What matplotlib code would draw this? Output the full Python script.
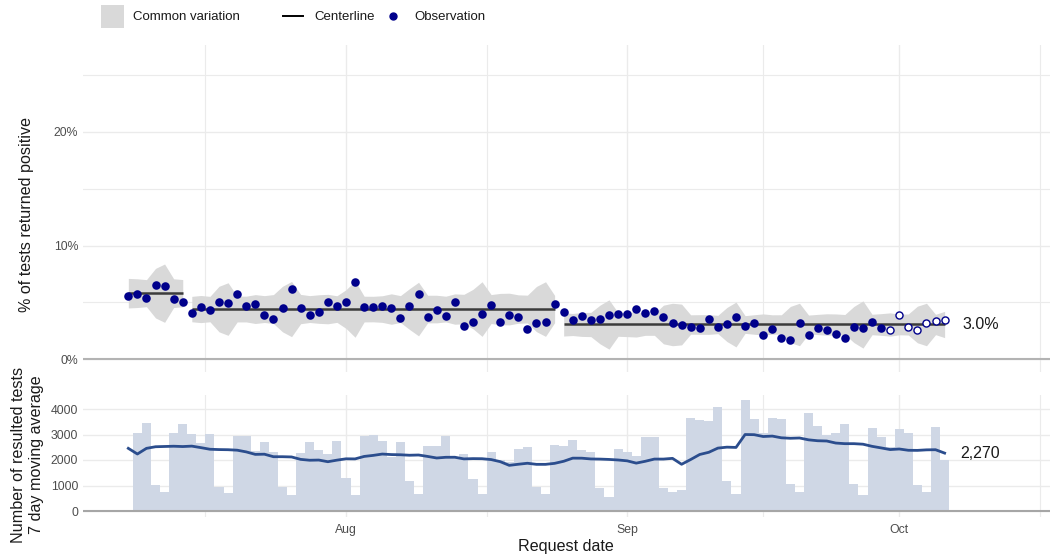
import numpy as np
import pandas as pd
import matplotlib
matplotlib.use("Agg")
import matplotlib.pyplot as plt
import matplotlib.dates as mdates
from matplotlib.patches import Rectangle
from matplotlib.lines import Line2D

plt.rcParams['font.family'] = ['Liberation Sans', 'DejaVu Sans']

# ---------------- data ----------------
start_date = '2020-07-08'
pct_positive = [
    5.55, 5.70, 5.40, 6.55, 6.40, 5.26, 5.02,            # Jul 8-14
    4.08, 4.61, 4.32, 5.00, 4.90, 5.73, 4.67,            # Jul 15-21
    4.82, 3.88, 3.52, 4.49, 6.20, 4.46, 3.90,            # Jul 22-28
    4.14, 5.02, 4.67, 5.02, 6.75, 4.55, 4.61,            # Jul 29-Aug 4
    4.70, 4.46, 3.58, 4.67, 5.70, 3.67, 4.29,            # Aug 5-11
    3.79, 5.05, 2.88, 3.26, 3.96, 4.78, 3.26,            # Aug 12-18
    3.88, 3.70, 2.61, 3.17, 3.29, 4.82, 4.11,            # Aug 19-25
    3.44, 3.76, 3.41, 3.55, 3.88, 3.94, 3.96,            # Aug 26-Sep 1
    4.43, 4.03, 4.23, 3.73, 3.14, 3.00, 2.79,            # Sep 2-8
    2.76, 3.55, 2.79, 3.05, 3.67, 2.88, 3.14,            # Sep 9-15
    2.09, 2.67, 1.82, 1.65, 3.20, 2.11, 2.70,            # Sep 16-22
    2.56, 2.23, 1.88, 2.79, 2.73, 3.29, 2.73,            # Sep 23-29
    2.56, 3.85, 2.79, 2.56, 3.14, 3.32, 3.46,            # Sep 30-Oct 6
]
resulted_tests = [
    2900, 3070, 3463, 1031, 745, 3070, 3412,             # Jul 8-14
    3020, 2654, 3020, 941, 706, 2941, 2941,              # Jul 15-21
    2340, 2706, 2327, 941, 640, 2275, 2706,              # Jul 22-28
    2392, 2248, 2758, 1307, 614, 2954, 2993,             # Jul 29-Aug 4
    2758, 2105, 2706, 1176, 680, 2562, 2562,             # Aug 5-11
    2954, 2118, 2248, 1255, 654, 2327, 1990,             # Aug 12-18
    1940, 2418, 2523, 954, 654, 2601, 2562,              # Aug 19-25
    2797, 2405, 2314, 915, 562, 2450, 2327,              # Aug 26-Sep 1
    2170, 2915, 2915, 915, 758, 823, 3634,               # Sep 2-8
    3555, 3516, 4065, 1176, 680, 4366, 3595,             # Sep 9-15
    3050, 3634, 3595, 1046, 758, 3856, 3346,             # Sep 16-22
    2980, 3072, 3425, 1046, 614, 3268, 2915,             # Sep 23-29
    2523, 3229, 3072, 1020, 758, 3307, 1985,             # Sep 30-Oct 6
]
bars_from = '2020-07-09'
ma_head = [2457, 2235, 2457, 2520, 2530, 2540]       # 7-day MA, Jul 8-13
segment_starts = ['2020-07-08', '2020-07-15', '2020-08-25']
segment_centers = [5.80, 4.40, 3.04]
incomplete_from = '2020-09-30'
top_ticks = [0, 10, 20]
top_tick_labels = ['0%', '10%', '20%']
top_minor = [5, 15, 25]
bot_ticks = [0, 1000, 2000, 3000, 4000]
bot_tick_labels = ['0', '1000', '2000', '3000', '4000']
x_major = ['2020-08-01', '2020-09-01', '2020-10-01']
x_major_labels = ['Aug', 'Sep', 'Oct']
x_minor = ['2020-07-16 12:00', '2020-08-16 12:00', '2020-09-16 00:00', '2020-10-16 12:00']

# ---------------- derived ----------------
dates = pd.date_range(start_date, periods=len(pct_positive), freq='D')
pct = np.array(pct_positive, float)
n = np.array(resulted_tests, float)
seg_starts = pd.to_datetime(segment_starts)
seg_id = np.searchsorted(seg_starts.values, dates.values, side='right') - 1
ma = pd.Series(n).rolling(7).mean().to_numpy()
ma[:len(ma_head)] = ma_head

BAND = '#d9d9d9'
CL = '#3b3b3b'
PT = '#00008b'
BAR = '#cfd7e5'
MA = '#2b4d8d'
GRID = '#ebebeb'
TXT = '#4d4d4d'

fig = plt.figure(figsize=(10.52, 5.55), dpi=100)
W, H = 1052, 555

def ax_rect(l, t, r, b):
    return [l / W, 1 - b / H, (r - l) / W, (b - t) / H]

ax1 = fig.add_axes(ax_rect(83, 45, 1050, 372))
ax2 = fig.add_axes(ax_rect(83, 395, 1050, 517), sharex=ax1)

aug1 = mdates.date2num(pd.Timestamp('2020-08-01'))
xlim = (aug1 - (346 - 83) / 9.07, aug1 + (1050 - 346) / 9.07)

for ax in (ax1, ax2):
    for s in ax.spines.values():
        s.set_visible(False)
    ax.set_xticks(pd.to_datetime(x_major))
    ax.set_xticks(pd.to_datetime(x_minor, format='%Y-%m-%d %H:%M'), minor=True)
    ax.tick_params(axis='both', which='both', length=0, colors=TXT, labelsize=8.8)
    ax.grid(True, which='major', axis='x', color=GRID, lw=1.0, zorder=0)
    ax.grid(True, which='minor', axis='x', color=GRID, lw=0.8, zorder=0)
    ax.set_axisbelow(True)
    ax.set_xlim(xlim)

# ---- top panel ----
ax1.set_ylim(-(372 - 359) / 11.35, (359 - 45) / 11.35)
ax1.set_yticks(top_ticks)
ax1.set_yticklabels(top_tick_labels)
ax1.set_yticks(top_minor, minor=True)
ax1.grid(True, which='major', axis='y', color=GRID, lw=1.0, zorder=0)
ax1.grid(True, which='minor', axis='y', color=GRID, lw=0.8, zorder=0)
ax1.axhline(0, color='#b3b3b3', lw=1.5, zorder=1)
plt.setp(ax1.get_xticklabels(), visible=False)

for k, c in enumerate(segment_centers):
    m = seg_id == k
    d = dates[m]
    sig = 3 * np.sqrt((c / 100) * (1 - c / 100) / n[m]) * 100
    ax1.fill_between(d, np.clip(c - sig, 0, None), c + sig, color=BAND, lw=0, zorder=2)
    ax1.plot(d, np.full(m.sum(), c), color=CL, lw=1.8, zorder=3, solid_capstyle='butt')

inc = dates >= pd.Timestamp(incomplete_from)
ax1.scatter(dates[~inc], pct[~inc], s=38, color=PT, zorder=4, linewidths=0)
ax1.scatter(dates[inc], pct[inc], s=26, facecolor='white', edgecolor=PT, linewidths=1.0, zorder=4)
ax1.text(dates[-1] + pd.Timedelta(days=2), segment_centers[-1], f"{segment_centers[-1]:.1f}%",
         va='center', ha='left', fontsize=11.5, color='#1a1a1a')

# ---- bottom panel ----
ax2.set_ylim(-(517 - 511) / 0.0255, (511 - 395) / 0.0255)
ax2.set_yticks(bot_ticks)
ax2.set_yticklabels(bot_tick_labels)
ax2.grid(True, which='major', axis='y', color=GRID, lw=1.0, zorder=0)
bm = dates >= pd.Timestamp(bars_from)
ax2.bar(dates[bm], n[bm], width=1.0, color=BAR, lw=0, zorder=1)
ax2.axhline(0, color='#a6a6a6', lw=1.5, zorder=2)
ax2.plot(dates, ma, color=MA, lw=2.0, zorder=3)
last_ma = int(round(ma[-1], -1))
ax2.text(dates[-1] + pd.Timedelta(days=1.7), ma[-1], f"{last_ma:,}",
         va='center', ha='left', fontsize=11.5, color='#1a1a1a')
ax2.set_xticklabels(x_major_labels)
ax2.tick_params(axis='x', pad=5)

# ---- axis titles ----
fig.text(27 / W, 1 - 215 / H, '% of tests returned positive', rotation=90,
         ha='center', va='center', fontsize=11.6, color='#1a1a1a')
fig.text(28 / W, 1 - 455 / H, 'Number of resulted tests\n7 day moving average', rotation=90,
         ha='center', va='center', fontsize=11.6, color='#1a1a1a', linespacing=1.25)
fig.text(566 / W, 1 - 547 / H, 'Request date', ha='center', va='center',
         fontsize=11.6, color='#1a1a1a')

# ---- legend ----
fig.patches.append(Rectangle((101 / W, 1 - 28 / H), 23 / W, 23 / H,
                             transform=fig.transFigure, color=BAND, lw=0))
fig.text(133 / W, 1 - 17 / H, 'Common variation', ha='left', va='center', fontsize=9.5, color='#1a1a1a')
fig.lines.append(Line2D([283 / W, 303 / W], [1 - 16 / H, 1 - 16 / H],
                        transform=fig.transFigure, color='black', lw=1.4))
fig.text(314 / W, 1 - 17 / H, 'Centerline', ha='left', va='center', fontsize=9.5, color='#1a1a1a')
fig.lines.append(Line2D([393 / W], [1 - 16 / H], transform=fig.transFigure,
                        marker='o', markersize=5, color=PT, lw=0))
fig.text(414 / W, 1 - 17 / H, 'Observation', ha='left', va='center', fontsize=9.5, color='#1a1a1a')

fig.savefig('out.png', dpi=100)
